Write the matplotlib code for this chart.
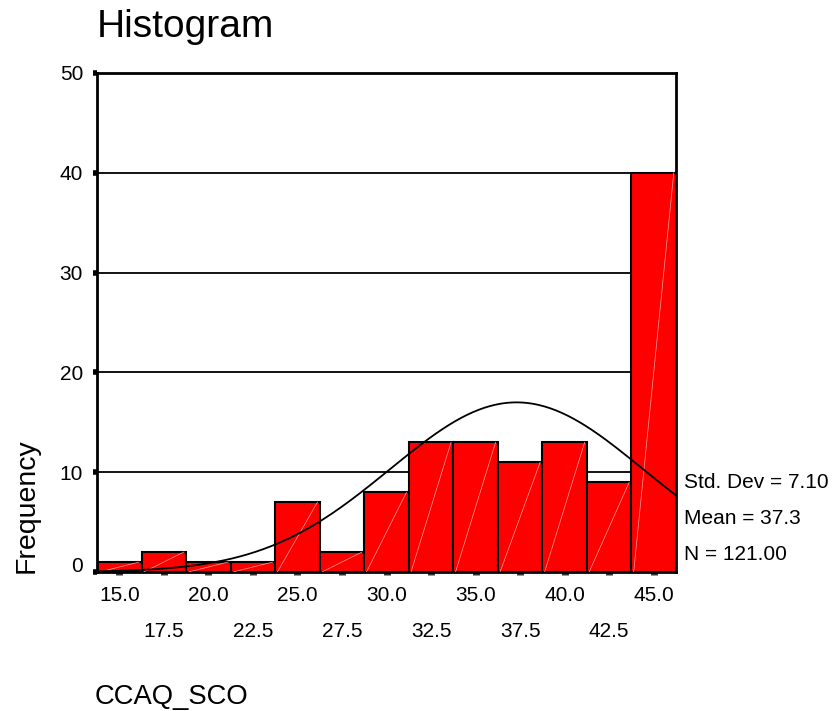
import numpy as np
import matplotlib
matplotlib.use("Agg")
import matplotlib.pyplot as plt
import matplotlib.transforms as mtrans

centers = [15.0, 17.5, 20.0, 22.5, 25.0, 27.5, 30.0, 32.5, 35.0, 37.5, 40.0, 42.5, 45.0]
counts = [1, 2, 1, 1, 7, 2, 8, 13, 13, 11, 13, 9, 40]
bin_width = 2.5
mean = 37.3
std = 7.10
n = 121.00
yticks = [0, 10, 20, 30, 40, 50]

plt.rcParams['font.family'] = ['Liberation Sans', 'DejaVu Sans']

fig = plt.figure(figsize=(8.35, 7.11), dpi=100)
ax = fig.add_axes([97/835, 1-572/711, (676-97)/835, (572-73)/711])

xmin = centers[0] - bin_width/2
xmax = centers[-1] + bin_width/2
ax.set_xlim(xmin, xmax)
ax.set_ylim(0, 50)

for y in yticks[1:-1]:
    ax.axhline(y, color='black', lw=1.3, zorder=1)

bars = ax.bar(centers, counts, width=bin_width, color='#ff0000', edgecolor='black', linewidth=1.5, zorder=2)
for b in bars:
    x0, w, h = b.get_x(), b.get_width(), b.get_height()
    ax.plot([x0 + w*0.05, x0 + w*0.95], [0, h], color='#ffa0a0', lw=0.5, zorder=3)

xs = np.linspace(xmin, xmax, 300)
pdf = n * bin_width / (std*np.sqrt(2*np.pi)) * np.exp(-0.5*((xs-mean)/std)**2)
ax.plot(xs, pdf, color='black', lw=1.3, zorder=4)

for s in ['top', 'right', 'left', 'bottom']:
    ax.spines[s].set_linewidth(2)
    ax.spines[s].set_color('black')

ax.set_yticks(yticks)
ax.set_yticklabels([str(v) for v in yticks], fontsize=15)
ax.tick_params(axis='y', direction='out', length=3, width=4, pad=7)
ylabs = ax.get_yticklabels()
ylabs[0].set_transform(ylabs[0].get_transform() + mtrans.ScaledTranslation(0, 8/100, fig.dpi_scale_trans))

major = centers[0::2]
minor = centers[1::2]
ax.set_xticks(major)
ax.set_xticklabels([f"{c:.1f}" for c in major], fontsize=15)
ax.set_xticks(minor, minor=True)
ax.set_xticklabels([f"{c:.1f}" for c in minor], minor=True, fontsize=15)
ax.tick_params(axis='x', which='both', direction='out', length=2, width=5, color='#333333')
ax.tick_params(axis='x', which='major', pad=8)
ax.tick_params(axis='x', which='minor', pad=34)

fig.text(97/835, 1-27/711, "Histogram", fontsize=28, ha='left', va='center')
fig.text(27/835, 1-506/711, "Frequency", fontsize=20.5, rotation=90, ha='center', va='center')
fig.text(95/835, 1-697/711, "CCAQ_SCO", fontsize=19.7, ha='left', va='center')

fig.text(684/835, 1-482/711, f"Std. Dev = {std:.2f}", fontsize=15, ha='left', va='center')
fig.text(684/835, 1-518/711, f"Mean = {mean:.1f}", fontsize=15, ha='left', va='center')
fig.text(684/835, 1-554/711, f"N = {n:.2f}", fontsize=15, ha='left', va='center')

fig.savefig("out.png", dpi=100)
